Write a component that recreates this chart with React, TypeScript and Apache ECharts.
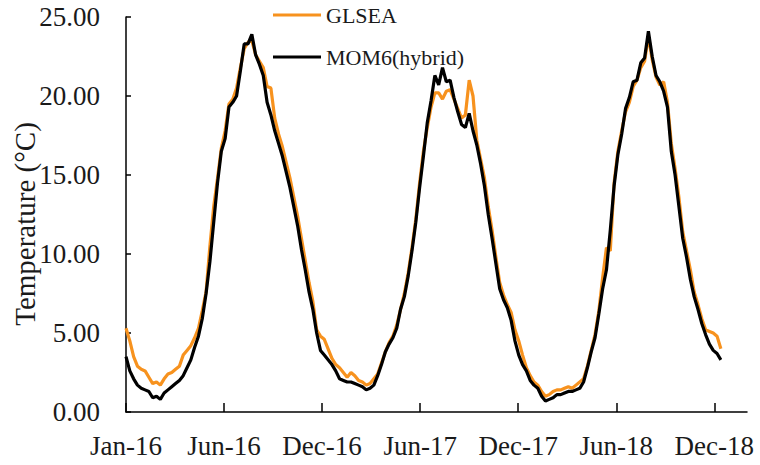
import React, { useEffect, useRef } from "react";
import * as echarts from "echarts";

// Days since 2016-01-01, sampled weekly
const STEP_DAYS = 7;
const MOM6_HYBRID = [
  3.5, 2.6, 2.1, 1.7, 1.5, 1.4, 1.3, 0.9, 1.0, 0.8,
  1.2, 1.4, 1.6, 1.8, 2.0, 2.3, 2.8, 3.3, 4.1, 4.8,
  5.9, 7.5, 9.5, 12.0, 14.5, 16.5, 17.3, 19.3, 19.6, 20.0,
  21.6, 23.3, 23.3, 23.9, 22.6, 22.0, 21.3, 19.6, 18.8, 17.8,
  17.0, 16.2, 15.2, 14.2, 13.0, 11.8, 10.3, 9.0, 7.6, 6.5,
  5.0, 3.9, 3.6, 3.3, 3.0, 2.6, 2.1, 2.0, 1.9, 1.9,
  1.8, 1.7, 1.6, 1.4, 1.5, 1.7, 2.3, 3.0, 3.8, 4.3,
  4.7, 5.3, 6.5, 7.3, 8.6, 10.2, 12.0, 14.2, 16.2, 18.3,
  19.7, 21.3, 20.7, 21.8, 20.9, 21.0, 19.9, 19.0, 18.2, 18.0,
  18.9, 17.8, 16.9, 15.7, 14.3, 12.5, 11.0, 9.4, 7.8, 7.1,
  6.6, 5.8, 4.5, 3.6, 3.0, 2.6, 2.0, 1.7, 1.5, 1.0,
  0.7, 0.8, 0.9, 1.1, 1.1, 1.2, 1.3, 1.3, 1.4, 1.5,
  1.9, 2.8, 3.8, 4.7, 6.2, 7.8, 9.0, 11.5, 14.3, 16.3,
  17.6, 19.2, 19.9, 20.9, 21.0, 22.1, 22.4, 24.1, 22.5, 21.3,
  20.9, 20.3, 19.3, 16.5, 15.0, 13.0, 11.0, 9.8, 8.4, 7.3,
  6.5, 5.6, 4.9, 4.3, 3.9, 3.7, 3.3,
];
const GLSEA = [
  5.3, 4.5, 3.5, 2.9, 2.7, 2.6, 2.2, 1.8, 1.9, 1.7,
  2.1, 2.4, 2.5, 2.7, 2.9, 3.6, 3.9, 4.2, 4.7, 5.3,
  6.4, 7.6, 10.5, 13.0, 14.8, 16.7, 17.8, 19.5, 19.8, 20.5,
  21.8, 23.0, 23.4, 23.5, 22.6, 22.2, 21.8, 20.6, 20.5, 18.6,
  17.6, 16.8, 15.8, 14.8, 13.6, 12.4, 11.0, 9.6, 8.2, 7.0,
  5.2, 4.8, 4.6, 4.0, 3.4, 3.0, 2.8, 2.5, 2.2, 2.5,
  2.3, 2.0, 1.9, 1.7, 1.8, 2.1, 2.4, 3.1, 3.8, 4.4,
  4.8, 5.5, 6.5, 7.5, 8.8, 10.4, 12.2, 14.5, 16.5, 18.0,
  19.3, 20.2, 20.2, 19.8, 20.3, 20.4, 19.8, 19.2, 18.6, 18.8,
  21.0, 20.0, 17.2, 16.0, 14.8, 13.0, 11.5, 9.8, 8.2, 7.4,
  6.8, 6.3, 5.2, 4.5, 3.6, 2.8, 2.3, 1.9, 1.7, 1.3,
  1.0, 1.1, 1.3, 1.4, 1.4, 1.5, 1.6, 1.5, 1.7, 1.9,
  2.1, 2.9, 3.9, 4.9, 6.4, 8.5, 10.4, 10.2, 14.5, 16.5,
  17.8, 19.0, 19.6, 20.6, 21.0, 21.8, 22.2, 23.8, 22.3, 21.2,
  20.7, 20.9, 19.6, 17.0, 15.4, 13.6, 11.4, 10.2, 9.0, 7.6,
  6.8, 5.9, 5.2, 5.1, 5.0, 4.8, 4.0,
];
const TICK_DAYS = [0, 180, 360, 540, 720, 900, 1080];
const TICK_LABELS = ["Jan-16", "Jun-16", "Dec-16", "Jun-17", "Dec-17", "Jun-18", "Dec-18"];
const Y_TICKS = [0, 5, 10, 15, 20, 25];

const FONT = '"Liberation Serif", "Times New Roman", serif';

export default function App() {
  const ref = useRef<HTMLDivElement>(null);
  useEffect(() => {
    document.body.style.margin = "0";
    if (!ref.current) return;
    const chart = echarts.init(ref.current, undefined, { renderer: "svg" });
    const toPairs = (arr: number[]) => arr.map((v, i) => [i * STEP_DAYS, v]);
    chart.setOption({
      animation: false,
      backgroundColor: "#fff",
      grid: { left: 126, right: 13, top: 17, bottom: 53 },
      legend: {
        orient: "vertical",
        left: 268,
        top: -1,
        itemWidth: 48,
        itemHeight: 3,
        itemGap: 20,
        icon: "rect",
        textStyle: { fontSize: 22, fontFamily: FONT, color: "#1a1a1a" },
        data: ["GLSEA", "MOM6(hybrid)"],
      },
      xAxis: {
        type: "value",
        min: 0,
        max: 1140,
        splitLine: { show: false },
        axisLine: { show: true, lineStyle: { color: "#000", width: 1.5 } },
        axisTick: {
          show: true,
          inside: true,
          length: 9,
          customValues: TICK_DAYS,
          lineStyle: { color: "#000", width: 1.5 },
        },
        axisLabel: {
          customValues: TICK_DAYS,
          fontSize: 27,
          fontFamily: FONT,
          color: "#1a1a1a",
          margin: 20,
          formatter: (v: number) => TICK_LABELS[TICK_DAYS.indexOf(Math.round(v))] ?? "",
        },
      },
      yAxis: {
        type: "value",
        min: 0,
        max: 25,
        interval: 5,
        splitLine: { show: false },
        axisLine: { show: true, lineStyle: { color: "#000", width: 1.5 } },
        axisTick: {
          show: true,
          inside: true,
          length: 5,
          customValues: Y_TICKS,
          lineStyle: { color: "#000", width: 1.5 },
        },
        axisLabel: {
          fontSize: 27,
          fontFamily: FONT,
          color: "#1a1a1a",
          margin: 26,
          formatter: (v: number) => v.toFixed(2),
        },
      },
      graphic: [
        {
          type: "text",
          x: 25,
          y: 224,
          rotation: Math.PI / 2,
          style: {
            text: "Temperature (°C)",
            font: `29px ${FONT}`,
            fill: "#1a1a1a",
            align: "center",
            verticalAlign: "middle",
          },
        },
      ],
      series: [
        {
          name: "GLSEA",
          type: "line",
          data: toPairs(GLSEA),
          showSymbol: false,
          symbol: "none",
          lineStyle: { color: "#F7921E", width: 3.2 },
          itemStyle: { color: "#F7921E" },
        },
        {
          name: "MOM6(hybrid)",
          type: "line",
          data: toPairs(MOM6_HYBRID),
          showSymbol: false,
          symbol: "none",
          lineStyle: { color: "#000", width: 3.2 },
          itemStyle: { color: "#000" },
        },
      ],
    });
    return () => chart.dispose();
  }, []);
  return <div ref={ref} style={{ width: 760, height: 465 }} />;
}
